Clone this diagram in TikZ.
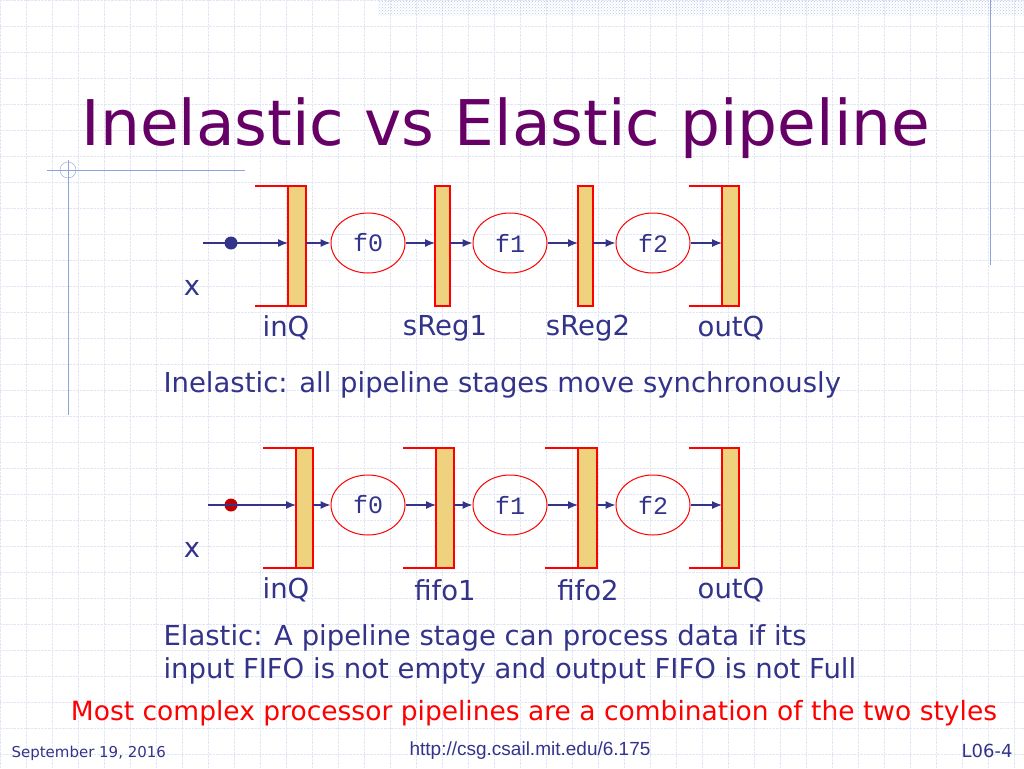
\documentclass[tikz,border=0pt]{standalone}
\usepackage{fontspec}
\setmainfont{DejaVu Sans}
\newfontfamily\monofont{Liberation Mono}
\newfontfamily\urlfont{Liberation Sans}
\usetikzlibrary{patterns,shapes.geometric,arrows.meta}
\definecolor{slatetext}{HTML}{33338A}
\definecolor{titlepurple}{HTML}{660066}
\definecolor{barfill}{HTML}{EFD27E}
\definecolor{gridblue}{HTML}{E2E6F4}
\definecolor{ruleblue}{HTML}{8FA2DA}

\tikzset{
	regbar/.style={draw=red, fill=barfill, line width=1.3pt},
	fnode/.style={draw=red, ellipse, line width=1pt, minimum width=74pt, minimum height=60pt, inner sep=0pt, font=\monofont\fontsize{25}{25}\selectfont, text=slatetext},
	flow/.style={slatetext, line width=1.2pt, -{Latex[length=10pt,width=8pt]}},
	lbl/.style={text=slatetext, font=\fontsize{27.5}{33}\selectfont},
}

\begin{document}
\begin{tikzpicture}[x=1pt, y=-1pt]
	\useasboundingbox (0,0) rectangle (1024,768);
	% background grid
	\foreach \g in {0,26,...,1024} \draw[gridblue, densely dotted] (\g,0) -- (\g,768);
	\foreach \g in {0,26,...,768} \draw[gridblue, densely dotted] (0,\g) -- (1024,\g);
	\fill[pattern=crosshatch dots, pattern color=ruleblue!60] (378,0) rectangle (1024,16);
	\draw[ruleblue] (990,0) -- (990,265);
	\draw[ruleblue] (68,160) -- (68,415);
	\draw[ruleblue] (47,170) -- (245,170);
	\draw[ruleblue] (68,170) circle(8);

	\node[anchor=base west, text=titlepurple, font=\fontsize{63}{63}\selectfont] (title) at (78,145) {Inelastic vs Elastic pipeline};

	% inelastic pipeline
	\fill[regbar] (288,186) rectangle (306,306);
	\draw[red, line width=1.3pt] (255,186) -- (288,186) (255,306) -- (288,306);
	\fill[regbar] (435,186) rectangle (450,306);
	\fill[regbar] (578,186) rectangle (593,306);
	\fill[regbar] (722,186) rectangle (739,306);
	\draw[red, line width=1.3pt] (689,186) -- (722,186) (689,306) -- (722,306);
	\coordinate (inA) at (203,243);
	\fill[slatetext] (231,243) circle(6.5);
	\node[fnode] (fa0) at (368,243) {f0};
	\node[fnode] (fa1) at (510,243) {f1};
	\node[fnode] (fa2) at (653,243) {f2};
	\draw[flow] (inA) -- (288,243);
	\draw[flow] (306,243) -- (fa0);
	\draw[flow] (fa0) -- (435,243);
	\draw[flow] (450,243) -- (fa1);
	\draw[flow] (fa1) -- (578,243);
	\draw[flow] (593,243) -- (fa2);
	\draw[flow] (fa2) -- (722,243);
	\node[lbl] at (192,288) {x};
	\node[lbl] at (286,328) {inQ};
	\node[lbl] at (445,328) {sReg1};
	\node[lbl] at (588,328) {sReg2};
	\node[lbl] at (731,328) {outQ};
	\node[lbl, anchor=west] at (160,385) {Inelastic: all pipeline stages move synchronously};

	% elastic pipeline
	\foreach \l/\r in {296/313, 436/454, 578/597, 722/739} {
		\fill[regbar] (\l,448) rectangle (\r,568);
		\draw[red, line width=1.3pt] (\l-33,448) -- (\l,448) (\l-33,568) -- (\l,568);
	}
	\coordinate (inB) at (208,505);
	\fill[red!75!black] (231,505) circle(6.5);
	\node[fnode] (fb0) at (368,505) {f0};
	\node[fnode] (fb1) at (510,505) {f1};
	\node[fnode] (fb2) at (653,505) {f2};
	\draw[flow] (inB) -- (296,505);
	\draw[flow] (313,505) -- (fb0);
	\draw[flow] (fb0) -- (436,505);
	\draw[flow] (454,505) -- (fb1);
	\draw[flow] (fb1) -- (578,505);
	\draw[flow] (597,505) -- (fb2);
	\draw[flow] (fb2) -- (722,505);
	\node[lbl] at (192,550) {x};
	\node[lbl] at (286,590) {inQ};
	\node[lbl] at (445,590) {fifo1};
	\node[lbl] at (588,590) {fifo2};
	\node[lbl] at (731,590) {outQ};
	\node[lbl, anchor=west, align=left] at (160,654) {Elastic: A pipeline stage can process data if its\\input FIFO is not empty and output FIFO is not Full};
	\node[text=red, font=\fontsize{26.5}{26.5}\selectfont] at (534,713) {Most complex processor pipelines are a combination of the two styles};

	% footer
	\node[anchor=west, text=slatetext, font=\fontsize{15}{15}\selectfont] at (8,753) {September 19, 2016};
	\node[text=slatetext, font=\urlfont\fontsize{19}{19}\selectfont] at (530,751) {http://csg.csail.mit.edu/6.175};
	\node[anchor=east, text=slatetext, font=\fontsize{18}{18}\selectfont] at (1016,751) {L06-4};
\end{tikzpicture}
\end{document}
